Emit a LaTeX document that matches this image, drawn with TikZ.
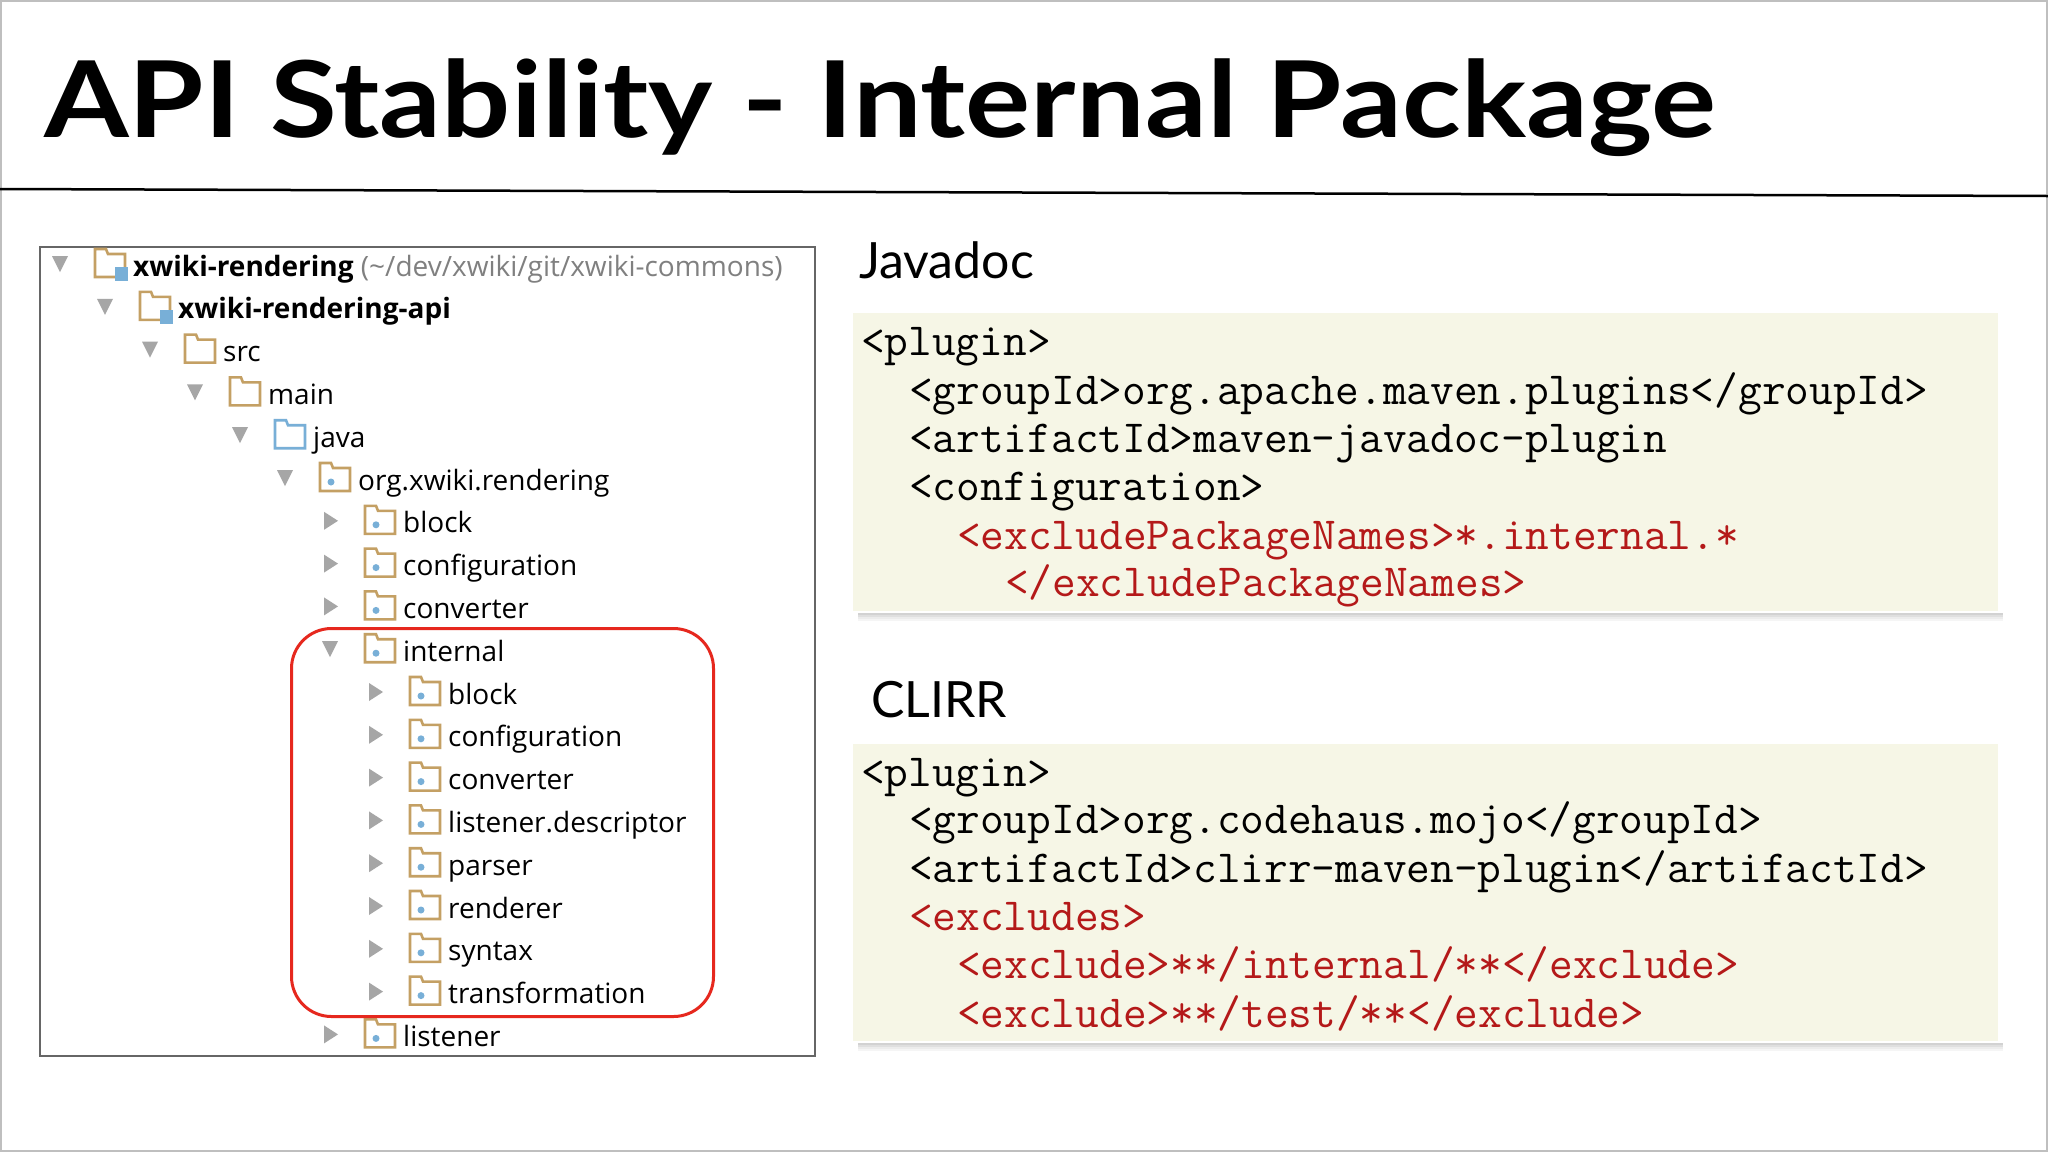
\documentclass[tikz,border=0pt]{standalone}
\usepackage{fontspec}
\setmainfont{Open Sans}
\newfontfamily\titlefont{Lato}
\newfontfamily\labfont{Lato}
\usetikzlibrary{shapes.geometric,calc}
\definecolor{tan}{RGB}{196,160,100}
\definecolor{pkgblue}{RGB}{120,175,215}
\definecolor{codebg}{RGB}{246,246,230}
\definecolor{codered}{RGB}{180,25,25}
\definecolor{hlred}{RGB}{230,40,30}
\tikzset{
  treetext/.style={anchor=base west,inner sep=0pt,font=\fontsize{28}{30}\selectfont},
  code/.style={anchor=base west,inner sep=0pt,font=\fontsize{46}{48}\ttfamily},
  codebox/.style={fill=codebg,draw=none},
  tri/.style={fill=gray!70,draw=none},
}
\newcommand{\folderic}[2]{% position (top-left of body), color
  \draw[#2,line width=2.6pt,fill=white] ($#1+(0,-4)$) -- ($#1+(0,-12)$) -- ($#1+(11,-12)$) -- ($#1+(13,-7)$) -- ($#1+(30,-7)$) -- ($#1+(30,16)$) -- ($#1+(0,16)$) -- cycle;
}
\begin{document}
\begin{tikzpicture}[x=1pt,y=-1pt]
\useasboundingbox (0,0) rectangle (2048,1152);
\fill[white] (0,0) rectangle (2048,1152);
\draw[gray!50,line width=1.5pt] (1,1) rectangle (2047,1151);
\node[anchor=base west,inner sep=0pt,xscale=1.15,font=\fontsize{106}{110}\titlefont\bfseries] (title) at (44,137) {API Stability - Internal Package};
\coordinate (tl) at (0,189); \coordinate (tr) at (2048,196);
\draw[line width=2.5pt] (tl) -- (tr);
% tree
\node[draw=gray!80!black,line width=1.5pt,minimum width=775pt,minimum height=809pt,anchor=north west,inner sep=0pt] (treebox) at (39,246) {};
\def\tri#1#2#3{% level, row, expanded(1/0)
  \pgfmathsetmacro\tx{60+45*#1}\pgfmathsetmacro\ty{265+42.8*#2}
  \ifnum#3=1 \fill[tri] (\tx-8,\ty-9) -- (\tx+8,\ty-9) -- (\tx,\ty+7) -- cycle;
  \else \fill[tri] (\tx-6,\ty-10) -- (\tx+8,\ty-1) -- (\tx-6,\ty+8) -- cycle; \fi}
\def\item#1#2#3#4#5{% name, level, row, icon, text
  \pgfmathsetmacro\tx{60+45*#2}\pgfmathsetmacro\ty{265+42.8*#3}
  \ifnum#4=2 \folderic{(\tx+35,\ty-4)}{pkgblue}\else \folderic{(\tx+35,\ty-4)}{tan}\fi
  \ifnum#4=1 \fill[pkgblue] (\tx+55,\ty+2) rectangle (\tx+68,\ty+16); \fi
  \ifnum#4=3 \fill[pkgblue] (\tx+46,\ty+3) circle (3.5pt); \fi
  \node[treetext] (#1) at (\tx+73,\ty+11) {#5};}
\tri{0}{0}{1}\item{t0}{0}{0}{1}{\bfseries xwiki-rendering \mdseries\color{gray}(\textasciitilde/dev/xwiki/git/xwiki-commons)}
\tri{1}{1}{1}\item{t1}{1}{1}{1}{\bfseries xwiki-rendering-api}
\tri{2}{2}{1}\item{t2}{2}{2}{0}{src}
\tri{3}{3}{1}\item{t3}{3}{3}{0}{main}
\tri{4}{4}{1}\item{t4}{4}{4}{2}{java}
\tri{5}{5}{1}\item{t5}{5}{5}{3}{org.xwiki.rendering}
\tri{6}{6}{0}\item{t6}{6}{6}{3}{block}
\tri{6}{7}{0}\item{t7}{6}{7}{3}{configuration}
\tri{6}{8}{0}\item{t8}{6}{8}{3}{converter}
\tri{6}{9}{1}\item{t9}{6}{9}{3}{internal}
\tri{7}{10}{0}\item{t10}{7}{10}{3}{block}
\tri{7}{11}{0}\item{t11}{7}{11}{3}{configuration}
\tri{7}{12}{0}\item{t12}{7}{12}{3}{converter}
\tri{7}{13}{0}\item{t13}{7}{13}{3}{listener.descriptor}
\tri{7}{14}{0}\item{t14}{7}{14}{3}{parser}
\tri{7}{15}{0}\item{t15}{7}{15}{3}{renderer}
\tri{7}{16}{0}\item{t16}{7}{16}{3}{syntax}
\tri{7}{17}{0}\item{t17}{7}{17}{3}{transformation}
\tri{6}{18}{0}\item{t18}{6}{18}{3}{listener}
\node[draw=hlred,line width=3pt,rounded corners=40pt,minimum width=422pt,minimum height=388pt,anchor=north west] (hl) at (290,627) {};
% Javadoc
\node[anchor=base west,inner sep=0pt,font=\fontsize{50}{55}\labfont] (jd) at (859,278) {Javadoc};
\foreach \k/\o in {1/0.35,2/0.25,3/0.15,4/0.08}{\fill[gray,opacity=\o] (858,611+2*\k) rectangle (2003,613+2*\k);}
\node[codebox,minimum width=1145pt,minimum height=298pt,anchor=north west,inner sep=0pt] (cb1) at (853,313) {};
\node[code] (a1) at (861,355) {<plugin>};
\node[code] (a2) at (909,404) {<groupId>org.apache.maven.plugins</groupId>};
\node[code] (a3) at (909,452) {<artifactId>maven-javadoc-plugin};
\node[code] (a4) at (909,500) {<configuration>};
\node[code,text=codered] (a5) at (957,549) {<excludePackageNames>*.internal.*};
\node[code,text=codered] (a6) at (1005,596) {</excludePackageNames>};
% CLIRR
\node[anchor=base west,inner sep=0pt,font=\fontsize{50}{55}\labfont] (cl) at (871,717) {CLIRR};
\foreach \k/\o in {1/0.35,2/0.25,3/0.15,4/0.08}{\fill[gray,opacity=\o] (858,1041+2*\k) rectangle (2003,1043+2*\k);}
\node[codebox,minimum width=1145pt,minimum height=297pt,anchor=north west,inner sep=0pt] (cb2) at (853,744) {};
\node[code] (b1) at (861,786) {<plugin>};
\node[code] (b2) at (909,833) {<groupId>org.codehaus.mojo</groupId>};
\node[code] (b3) at (909,882) {<artifactId>clirr-maven-plugin</artifactId>};
\node[code,text=codered] (b4) at (909,930) {<excludes>};
\node[code,text=codered] (b5) at (957,978) {<exclude>**/internal/**</exclude>};
\node[code,text=codered] (b6) at (957,1027) {<exclude>**/test/**</exclude>};
\end{tikzpicture}
\end{document}
